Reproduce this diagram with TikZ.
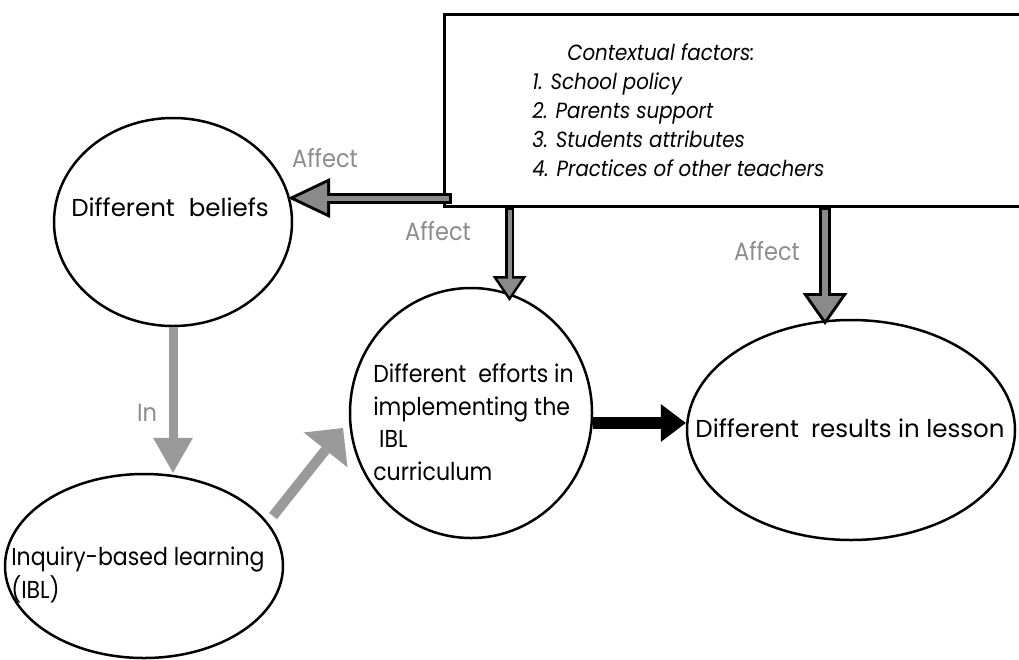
\documentclass[tikz,border=0pt]{standalone}
\usepackage{fontspec}
\setmainfont{Poppins}[FakeStretch=0.9]
\usetikzlibrary{arrows.meta,shapes.geometric}
\definecolor{fatgray}{HTML}{8A8A8A}
\definecolor{litegray}{HTML}{9A9A9A}
\definecolor{lblgray}{HTML}{8C8C8C}
\begin{document}
\begin{tikzpicture}[x=1pt,y=-1pt,line width=2.5pt,
  bub/.style={draw=black,ellipse,inner sep=0pt},
  txt/.style={font=\fontsize{24.5}{32.5}\selectfont,align=left,inner sep=0pt},
  widetxt/.style={font=\fontsize{24.5}{32.5}\selectfont\addfontfeature{FakeStretch=1.0},align=left,inner sep=0pt},
  boxtxt/.style={font=\fontsize{22}{29}\selectfont\itshape,align=left,inner sep=0pt},
  lbl/.style={text=lblgray,font=\fontsize{25}{28}\selectfont,inner sep=0pt},
]
\useasboundingbox (0,0) rectangle (1019,659);

% contextual factors box
\node[draw=black,rectangle,inner sep=0pt,minimum width=590pt,minimum height=192pt,anchor=north west] (box) at (443,13) {};
\node[boxtxt,anchor=north west] (factors) at (531,42)
  {\hspace*{35pt}Contextual factors:\\1. School policy\\2. Parents support\\3. Students attributes\\4. Practices of other teachers};

% bubbles
\node[bub,minimum width=238pt,minimum height=208pt] (beliefs) at (173,222) {};
\node[widetxt] (tbeliefs) at (170,207) {Different\hspace{14pt}beliefs};

\node[bub,minimum width=278pt,minimum height=184pt] (ibl) at (144,566) {};
\node[txt,anchor=west] (tibl) at (10,575) {Inquiry-based learning\\(IBL)};

\node[bub,minimum width=242pt,minimum height=250pt] (efforts) at (471,413) {};
\node[txt,anchor=west] (tefforts) at (372,422) {Different\ \ efforts in\\implementing the\\\ IBL\\curriculum};

\node[bub,minimum width=328pt,minimum height=220pt] (results) at (851,430) {};
\node[widetxt] (tresults) at (850,428) {Different\hspace{12pt}results in lesson};

% labels
\node[lbl] (l1) at (325,158) {Affect};
\node[lbl] (l2) at (438,231) {Affect};
\node[lbl] (l3) at (767,251) {Affect};
\node[lbl] (l4) at (147,413) {In};

% arrow end points
\coordinate (a1s) at (452,198);
\coordinate (a1t) at (288,198);
\coordinate (a2s) at (509.5,205);
\coordinate (a2t) at (509.5,301);
\coordinate (a3s) at (825,205);
\coordinate (a3t) at (825,325);
\coordinate (a5s) at (273,516);
\coordinate (a5t) at (343,428);
\coordinate (a6) at (0,423);

% box -> beliefs
\draw[black,line width=11pt,-{Triangle[length=42pt,width=40pt,line width=0pt]}] (a1s) -- (a1t);
\draw[fatgray,line width=5pt,shorten <=3pt,shorten >=7pt,-{Triangle[length=32pt,width=30.5pt,line width=0pt]}] (a1s) -- (a1t);
% box -> efforts
\draw[black,line width=9pt,-{Triangle[length=25pt,width=34pt,line width=0pt]}] (box.south -| a2s) -- (a2t);
\draw[fatgray,line width=4pt,shorten <=2pt,shorten >=4.5pt,-{Triangle[length=18pt,width=24.5pt,line width=0pt]}] (box.south -| a2s) -- (a2t);
% box -> results
\draw[black,line width=12pt,-{Triangle[length=32pt,width=45pt,line width=0pt]}] (box.south -| a3s) -- (a3t);
\draw[fatgray,line width=6pt,shorten <=2pt,shorten >=5.2pt,-{Triangle[length=23.8pt,width=33.5pt,line width=0pt]}] (box.south -| a3s) -- (a3t);
% beliefs -> ibl
\draw[litegray,line width=9pt,-{Triangle[length=35pt,width=40pt,line width=0pt]}] (beliefs.south) -- (beliefs.south |- ibl.north);
% ibl -> efforts
\draw[litegray,line width=10pt,-{Triangle[length=28pt,width=56pt,line width=0pt]}] (a5s) -- (a5t);
% efforts -> results
\draw[black,line width=12pt,-{Triangle[length=25pt,width=38pt,line width=0pt]}] (efforts.east |- a6) -- (results.west |- a6);
\end{tikzpicture}
\end{document}
